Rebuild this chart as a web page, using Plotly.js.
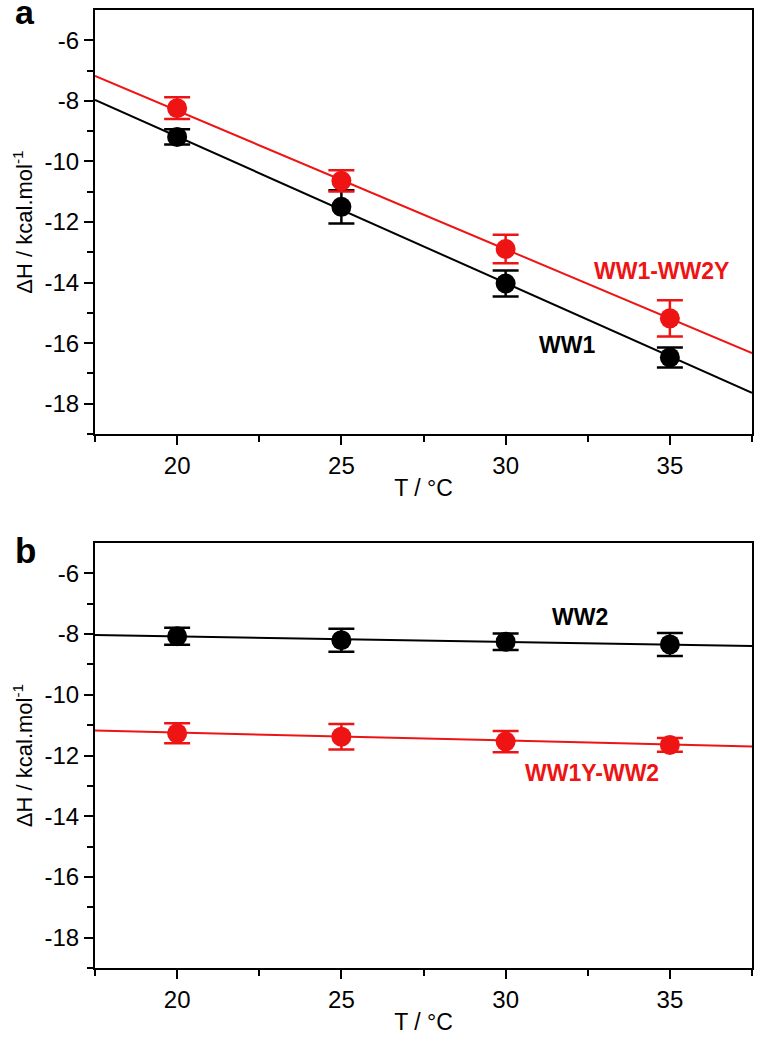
<!DOCTYPE html>
<html>
<head>
<meta charset="utf-8">
<script src="https://cdn.plot.ly/plotly-3.0.1.min.js"></script>
<style>html,body{margin:0;padding:0;background:#fff;}#chart{width:765px;height:1050px;}</style>
</head>
<body>
<div id="chart"></div>
<script>
// ---- data ----
const temps = [20, 25, 30, 35];

// panel a
const ww1 = [-9.19, -11.5, -14.03, -16.47];
const ww1Err = [0.25, 0.55, 0.43, 0.33];
const ww1ww2y = [-8.24, -10.64, -12.89, -15.18];
const ww1ww2yErr = [0.36, 0.35, 0.47, 0.6];

// panel b
const ww2 = [-8.07, -8.2, -8.25, -8.34];
const ww2Err = [0.28, 0.38, 0.27, 0.38];
const ww1yww2 = [-11.27, -11.38, -11.54, -11.65];
const ww1yww2Err = [0.33, 0.42, 0.35, 0.23];

// fitted straight lines (end points read at the plot edges)
const fitT = [17.5, 37.5];
const fitWW1 = [-7.97, -17.64];
const fitWW1WW2Y = [-7.18, -16.33];
const fitWW2 = [-8.03, -8.39];
const fitWW1YWW2 = [-11.18, -11.7];

const xTicks = [20, 25, 30, 35];
const yTicks = [-6, -8, -10, -12, -14, -16, -18];

// ---- styling ----
const RED = 'rgb(238,20,20)';
const BLACK = '#000000';
const FONT = 'Arial, "Liberation Sans", sans-serif';

function fit(x, y, color, xa, ya) {
  return {x: x, y: y, xaxis: xa, yaxis: ya, mode: 'lines', type: 'scatter',
          line: {color: color, width: 2}, hoverinfo: 'skip', showlegend: false};
}
function pts(x, y, err, color, xa, ya) {
  return {x: x, y: y, xaxis: xa, yaxis: ya, mode: 'markers', type: 'scatter',
          marker: {color: color, size: 20},
          error_y: {type: 'data', array: err, visible: true, color: color, thickness: 2.5, width: 13},
          showlegend: false};
}

const traces = [
  fit(fitT, fitWW1, BLACK, 'x', 'y'),
  fit(fitT, fitWW1WW2Y, RED, 'x', 'y'),
  pts(temps, ww1, ww1Err, BLACK, 'x', 'y'),
  pts(temps, ww1ww2y, ww1ww2yErr, RED, 'x', 'y'),
  fit(fitT, fitWW2, BLACK, 'x2', 'y2'),
  fit(fitT, fitWW1YWW2, RED, 'x2', 'y2'),
  pts(temps, ww2, ww2Err, BLACK, 'x2', 'y2'),
  pts(temps, ww1yww2, ww1yww2Err, RED, 'x2', 'y2')
];

function xAxis(anchor) {
  return {
    anchor: anchor, domain: [0, 1], range: [17.5, 37.5],
    tickmode: 'array', tickvals: xTicks, ticktext: xTicks.map(String),
    ticks: 'outside', ticklen: 9, tickwidth: 2, tickcolor: '#000',
    minor: {tickmode: 'array', tickvals: [17.5, 22.5, 27.5, 32.5, 37.5], ticks: 'outside', ticklen: 6, tickwidth: 2, tickcolor: '#000'},
    showline: true, linecolor: '#000', linewidth: 2, mirror: true,
    showgrid: false, zeroline: false,
    tickfont: {family: FONT, size: 24, color: '#000'},
    title: {text: 'T / °C', font: {family: FONT, size: 23, color: '#000'}, standoff: 2}
  };
}
function yAxis(anchor, domain) {
  return {
    anchor: anchor, domain: domain, range: [-19, -5],
    tickmode: 'array', tickvals: yTicks, ticktext: yTicks.map(String),
    ticks: 'outside', ticklen: 9, tickwidth: 2, tickcolor: '#000',
    minor: {tickmode: 'array', tickvals: [-7, -9, -11, -13, -15, -17, -19], ticks: 'outside', ticklen: 6, tickwidth: 2, tickcolor: '#000'},
    showline: true, linecolor: '#000', linewidth: 2, mirror: true,
    showgrid: false, zeroline: false,
    tickfont: {family: FONT, size: 24, color: '#000'},
    title: {text: 'ΔH / kcal.mol<sup>-1</sup>', font: {family: FONT, size: 22, color: '#000'}, standoff: 6}
  };
}

const layout = {
  width: 765, height: 1050,
  margin: {l: 95, r: 13, t: 10, b: 82},
  paper_bgcolor: '#fff', plot_bgcolor: '#fff',
  showlegend: false,
  xaxis: xAxis('y'),
  yaxis: yAxis('x', [0.5574, 1]),
  xaxis2: xAxis('y2'),
  yaxis2: yAxis('x2', [0, 0.4436]),
  annotations: [
    {text: 'WW1-WW2Y', x: 34.76, y: -13.62, xref: 'x', yref: 'y', showarrow: false,
     font: {family: FONT, size: 23, color: RED, weight: 'bold'}},
    {text: 'WW1', x: 31.87, y: -16.06, xref: 'x', yref: 'y', showarrow: false,
     font: {family: FONT, size: 23, color: BLACK, weight: 'bold'}},
    {text: 'WW2', x: 32.26, y: -7.44, xref: 'x2', yref: 'y2', showarrow: false,
     font: {family: FONT, size: 23, color: BLACK, weight: 'bold'}},
    {text: 'WW1Y-WW2', x: 32.63, y: -12.58, xref: 'x2', yref: 'y2', showarrow: false,
     font: {family: FONT, size: 23, color: RED, weight: 'bold'}},
    {text: 'a', xref: 'paper', yref: 'paper', x: -0.125, y: 0.976, xanchor: 'left', yanchor: 'bottom',
     showarrow: false, font: {family: FONT, size: 34, color: '#000', weight: 'bold'}},
    {text: 'b', xref: 'paper', yref: 'paper', x: -0.125, y: 0.4135, xanchor: 'left', yanchor: 'bottom',
     showarrow: false, font: {family: FONT, size: 35, color: '#000', weight: 'bold'}}
  ]
};

Plotly.newPlot('chart', traces, layout, {displayModeBar: false, staticPlot: true});
</script>
</body>
</html>
